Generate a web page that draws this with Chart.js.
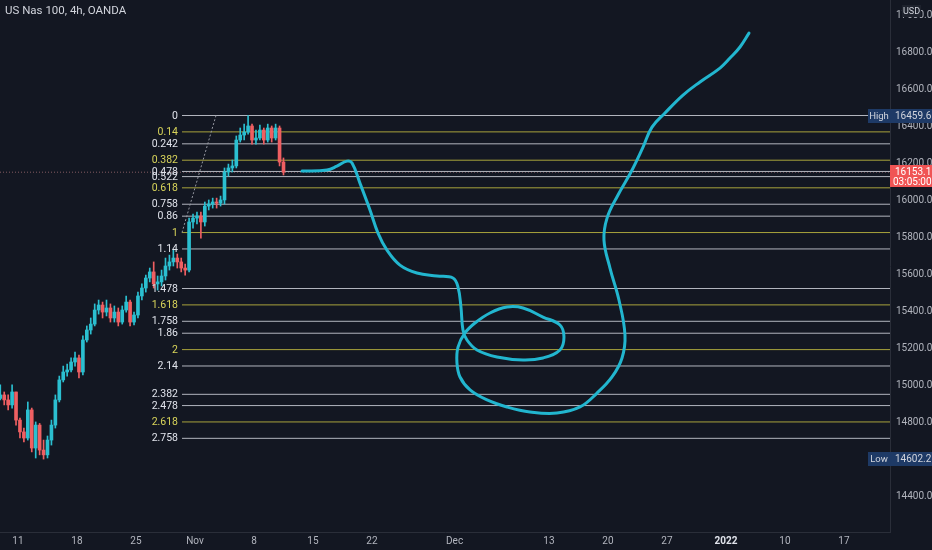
<!DOCTYPE html>
<html>
<head>
<meta charset="utf-8">
<script src="https://cdn.jsdelivr.net/npm/chart.js@4.4.1/dist/chart.umd.min.js"></script>
<style>
  html, body { margin: 0; padding: 0; background: #131722; }
  #wrap { width: 932px; height: 550px; position: relative; }
</style>
</head>
<body>
<div id="wrap"><canvas id="myChart"></canvas></div>
<script>
// 8h candles, x in trading days (Oct 11 = 0)
var candleStart = -1.5;
var candleStep = 1 / 3;
var opens = [14930,14949,14922,14895,14965,14813,14749,14716,14868,14662,14786,14651,14625,14705,14786,14922,15030,15073,15084,15127,15149,15073,15246,15300,15332,15408,15435,15397,15419,15365,15397,15343,15408,15451,15343,15381,15484,15527,15581,15614,15549,15560,15592,15646,15668,15689,15668,15635,15624,15884,15905,15916,15884,15970,15981,15992,15986,16003,16154,16176,16187,16327,16354,16370,16403,16327,16338,16381,16327,16392,16338,16392,16208];
var highs = [15003,14965,14949,15003,14965,14824,14770,14911,14878,14803,14795,14705,14727,14813,14949,15051,15105,15116,15149,15181,15165,15268,15322,15365,15441,15462,15451,15462,15441,15430,15419,15430,15484,15462,15397,15505,15549,15597,15635,15668,15592,15624,15689,15705,15732,15711,15689,15657,15905,15927,15938,15938,15992,16003,16013,16013,16024,16176,16197,16219,16349,16392,16413,16459.6,16413,16381,16408,16392,16413,16403,16413,16403,16230];
var lows = [14922,14895,14868,14878,14786,14716,14695,14705,14641,14608,14625,14602.2,14608,14678,14770,14911,15019,15051,15073,15105,15041,15057,15235,15278,15322,15386,15365,15376,15343,15343,15322,15332,15397,15322,15327,15365,15462,15505,15560,15527,15516,15538,15570,15624,15646,15635,15614,15597,15614,15851,15873,15797,15862,15949,15959,15959,15970,15981,16132,16154,16176,16316,16327,16359,16305,16305,16327,16305,16316,16316,16327,16187,16138];
var closes = [14949,14922,14895,14965,14813,14749,14716,14868,14662,14786,14651,14625,14705,14786,14922,15030,15073,15084,15127,15149,15073,15246,15300,15332,15408,15435,15397,15419,15365,15397,15343,15408,15451,15343,15381,15484,15527,15581,15614,15549,15560,15592,15646,15668,15689,15668,15635,15624,15884,15905,15916,15884,15970,15981,15992,15986,16003,16154,16176,16187,16327,16354,16370,16403,16327,16338,16381,16327,16392,16338,16392,16208,16153.1];

// fib extension
var fibHigh = 16459.6;
var fibLow = 15826.8;
var fibLevels = [0, 0.14, 0.242, 0.382, 0.478, 0.522, 0.618, 0.758, 0.86, 1, 1.14, 1.478, 1.618, 1.758, 1.86, 2, 2.14, 2.382, 2.478, 2.618, 2.758];
var fibYellow = [0.14, 0.382, 0.618, 1, 1.618, 2, 2.618];
var fibStartX = 13.9;
var fibTrend = [{x: 13.9, y: 15826.8}, {x: 16.78, y: 16459.6}];

// hand drawn path (day, price)
var pathX = [24.07,26.19,27.03,27.88,28.31,28.98,29.83,30.51,31.27,32.37,33.81,35.51,36.86,37.29,37.54,37.71,38.05,38.90,40.59,42.80,44.49,45.93,46.27,45.93,44.49,42.80,41.44,40.00,38.73,37.88,37.29,37.20,37.46,38.31,39.75,41.44,43.39,45.68,47.63,49.07,50.34,51.19,51.44,50.93,50.17,49.66,49.92,50.85,51.95,52.97,53.73,54.83,56.36,57.80,59.49,60.34,61.19,61.95];
var pathY = [16159,16165,16186,16213,16203,16094,15949,15824,15732,15651,15608,15592,15581,15532,15424,15300,15246,15192,15154,15138,15149,15192,15262,15327,15370,15419,15424,15392,15338,15284,15208,15122,15046,14976,14922,14884,14857,14851,14884,14959,15046,15149,15273,15462,15635,15786,15905,16030,16154,16289,16397,16473,16570,16641,16716,16770,16830,16905];

var lastPrice = 16153.1;
var lastCountdown = '03:05:00';
var lowPrice = 14602.2;

var xTickPos = [0, 5, 10, 15, 20, 25, 30, 37, 45, 50, 55, 60, 65, 70];
var xTickLabels = ['11', '18', '25', 'Nov', '8', '15', '22', 'Dec', '13', '20', '27', '2022', '10', '17'];
var yTicks = [14400, 14600, 14800, 15000, 15200, 15400, 15600, 15800, 16000, 16200, 16400, 16600, 16800, 17000];

var xMin = -1.525, xMax = 73.9;
var yMin = 14208, yMax = 17084;

var upColor = '#2bbfd0';
var downColor = '#ef5f62';

var candleX = opens.map((o, i) => candleStart + i * candleStep);
var wickData = candleX.map((x, i) => ({x: x, y: [lows[i], highs[i]]}));
var bodyData = candleX.map((x, i) => ({x: x, y: [opens[i], closes[i]]}));
var candleColors = closes.map((c, i) => c >= opens[i] ? upColor : downColor);

var fibSets = fibLevels.map(lv => {
    var price = fibHigh - lv * (fibHigh - fibLow);
    return {
        type: 'line',
        data: [{x: fibStartX, y: price}, {x: xMax, y: price}],
        borderColor: fibYellow.includes(lv) ? '#a8a33c' : '#b2b5be',
        borderWidth: 1,
        pointRadius: 0,
        order: 5
    };
});

var overlay = {
    id: 'overlay',
    afterDraw(chart) {
        var ctx = chart.ctx;
        var xs = chart.scales.x, ys = chart.scales.y;
        var area = chart.chartArea;
        ctx.save();

        // title
        ctx.font = '11.5px Roboto, sans-serif';
        ctx.fillStyle = '#d1d4dc';
        ctx.textAlign = 'left';
        ctx.textBaseline = 'middle';
        ctx.fillText('US Nas 100, 4h, OANDA', 5, 11);

        // fib labels
        ctx.font = '10.5px Roboto, sans-serif';
        ctx.textAlign = 'right';
        var lx = xs.getPixelForValue(fibStartX) - 4;
        fibLevels.forEach(lv => {
            var py = ys.getPixelForValue(fibHigh - lv * (fibHigh - fibLow));
            ctx.fillStyle = fibYellow.includes(lv) ? '#d8d45a' : '#e0e3eb';
            ctx.fillText(String(lv), lx, py + 0.5);
        });

        // high / low tags
        function tag(price, word) {
            var py = Math.round(ys.getPixelForValue(price));
            ctx.fillStyle = '#1e3a66';
            ctx.fillRect(area.right - 22, py - 7, 22, 14);
            ctx.fillRect(area.right, py - 7, chart.width - area.right, 14);
            ctx.font = '9.5px Roboto, sans-serif';
            ctx.fillStyle = '#d1d4dc';
            ctx.textAlign = 'center';
            ctx.fillText(word, area.right - 11, py + 0.5);
            ctx.font = '10px Roboto, sans-serif';
            ctx.textAlign = 'left';
            ctx.fillText(price.toFixed(1), area.right + 5, py + 0.5);
        }
        tag(fibHigh, 'High');
        tag(lowPrice, 'Low');

        // last price
        var cy = Math.round(ys.getPixelForValue(lastPrice));
        ctx.fillStyle = '#f05454';
        ctx.fillRect(area.right, cy - 7, chart.width - area.right, 22);
        ctx.fillStyle = '#ffffff';
        ctx.font = '10px Roboto, sans-serif';
        ctx.textAlign = 'left';
        ctx.fillText(lastPrice.toFixed(1), area.right + 5, cy + 0.5);
        ctx.fillText(lastCountdown, area.right + 3, cy + 10);

        // currency
        ctx.fillStyle = '#1e222d';
        ctx.fillRect(area.right + 12, 5, 19, 12);
        ctx.fillStyle = '#d1d4dc';
        ctx.font = '9px Roboto, sans-serif';
        ctx.textAlign = 'center';
        ctx.fillText('USD', area.right + 21.5, 11.5);

        ctx.restore();
    }
};

var config = {
    type: 'line',
    data: {
        datasets: [
            {
                type: 'line',
                data: pathX.map((x, i) => ({x: x, y: pathY[i]})),
                borderColor: '#22b6cf',
                borderWidth: 3,
                pointRadius: 0,
                tension: 0.4,
                borderCapStyle: 'round',
                borderJoinStyle: 'round',
                order: 0
            },
            {
                type: 'bar',
                data: bodyData,
                backgroundColor: candleColors,
                barThickness: 3,
                minBarLength: 1,
                grouped: false,
                order: 1
            },
            {
                type: 'bar',
                data: wickData,
                backgroundColor: candleColors,
                barThickness: 1,
                grouped: false,
                order: 2
            },
            {
                type: 'line',
                data: fibTrend,
                borderColor: '#9598a1',
                borderWidth: 1,
                borderDash: [2, 2],
                pointRadius: 0,
                order: 4
            },
            {
                type: 'line',
                data: [{x: xMin, y: lastPrice}, {x: xMax, y: lastPrice}],
                borderColor: 'rgba(180,120,125,0.7)',
                borderWidth: 1,
                borderDash: [1, 2],
                pointRadius: 0,
                order: 6
            }
        ].concat(fibSets)
    },
    options: {
        responsive: true,
        maintainAspectRatio: false,
        animation: false,
        layout: { padding: 0 },
        plugins: { legend: { display: false }, tooltip: { enabled: false } },
        scales: {
            x: {
                type: 'linear',
                min: xMin,
                max: xMax,
                offset: false,
                grid: { display: false, drawTicks: false, offset: false },
                border: { display: true, color: '#2a2e39' },
                afterFit: scale => {
                    scale.height = 18;
                    scale.paddingLeft = 0;
                    scale.paddingRight = 0;
                },
                afterBuildTicks: scale => { scale.ticks = xTickPos.map(v => ({value: v})); },
                ticks: {
                    autoSkip: false,
                    maxRotation: 0,
                    padding: 3,
                    color: c => xTickLabels[c.index] === '2022' ? '#e0e3eb' : '#b2b5be',
                    font: c => ({ family: 'Roboto', size: 10, weight: xTickLabels[c.index] === '2022' ? 'bold' : 'normal' }),
                    callback: (v, i) => xTickLabels[i]
                }
            },
            y: {
                type: 'linear',
                position: 'right',
                min: yMin,
                max: yMax,
                grid: { display: false, drawTicks: false },
                border: { display: true, color: '#2a2e39' },
                afterFit: scale => {
                    scale.width = 42;
                    scale.paddingTop = 0;
                    scale.paddingBottom = 0;
                },
                afterBuildTicks: scale => { scale.ticks = yTicks.map(v => ({value: v})); },
                ticks: {
                    padding: 6,
                    color: '#b2b5be',
                    font: { family: 'Roboto', size: 10 },
                    callback: v => v.toFixed(1)
                }
            }
        }
    },
    plugins: [overlay]
};

var ctx = document.getElementById('myChart').getContext('2d');
var myChart = new Chart(ctx, config);
</script>
</body>
</html>
